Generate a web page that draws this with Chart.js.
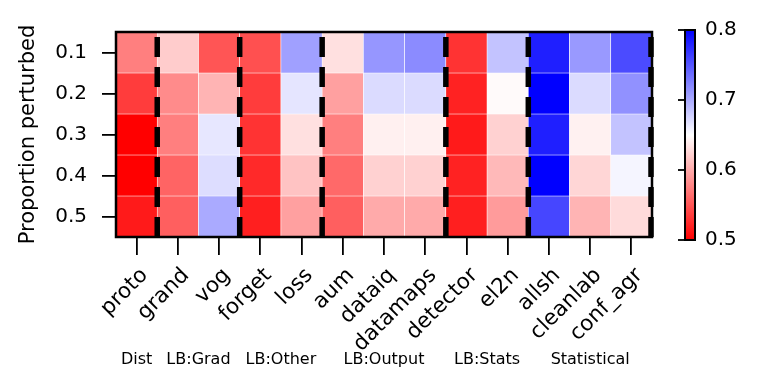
<!DOCTYPE html>
<html>
<head>
<meta charset="utf-8">
<script src="https://cdn.jsdelivr.net/npm/chart.js@4"></script>
<style>
  html, body { margin: 0; padding: 0; background: #fff; }
  canvas { display: block; }
</style>
</head>
<body>
<canvas id="heatmap" width="762" height="388"></canvas>
<script>
// Methods on the x axis, perturbation levels on the y axis
const methods = ['proto', 'grand', 'vog', 'forget', 'loss', 'aum', 'dataiq', 'datamaps',
                 'detector', 'el2n', 'allsh', 'cleanlab', 'conf_agr'];
const proportions = ['0.1', '0.2', '0.3', '0.4', '0.5'];

// Cell values, one array per row
const row01 = [0.575, 0.620, 0.550, 0.547, 0.706, 0.632, 0.712, 0.718, 0.530, 0.685, 0.782, 0.710, 0.756];
const row02 = [0.535, 0.582, 0.606, 0.535, 0.665, 0.594, 0.671, 0.671, 0.520, 0.647, 0.800, 0.671, 0.715];
const row03 = [0.500, 0.575, 0.664, 0.530, 0.632, 0.575, 0.641, 0.641, 0.515, 0.623, 0.782, 0.642, 0.685];
const row04 = [0.500, 0.559, 0.670, 0.524, 0.615, 0.562, 0.623, 0.623, 0.520, 0.609, 0.800, 0.626, 0.656];
const row05 = [0.515, 0.556, 0.700, 0.518, 0.594, 0.556, 0.600, 0.600, 0.518, 0.591, 0.759, 0.606, 0.629];
const rows = [row01, row02, row03, row04, row05];

// Method groups: label, first column, last column
const groupNames = ['Dist', 'LB:Grad', 'LB:Other', 'LB:Output', 'LB:Stats', 'Statistical'];
const groupFirst = [0, 1, 3, 5, 8, 10];
const groupLast = [0, 2, 4, 7, 9, 12];

// Colour scale
const vmin = 0.5;
const vmax = 0.8;
const colorTicks = [0.5, 0.6, 0.7, 0.8];

Chart.defaults.font.family = 'DejaVu Sans';
Chart.defaults.color = '#000';

// bwr reversed: red -> white -> blue
function bwrR(v) {
  let t = (v - vmin) / (vmax - vmin);
  t = Math.min(1, Math.max(0, t));
  let r, g, b;
  if (t < 0.5) {
    const s = t / 0.5;
    r = 255; g = Math.round(255 * s); b = g;
  } else {
    const s = (t - 0.5) / 0.5;
    r = Math.round(255 * (1 - s)); g = r; b = 255;
  }
  return `rgb(${r},${g},${b})`;
}

const datasets = rows.map((vals, r) => ({
  label: proportions[r],
  data: vals.map(() => [r + 0.5, r + 1.5]),
  backgroundColor: vals.map(bwrR),
  borderColor: '#fff',
  borderWidth: 0.6,
  borderSkipped: false,
  barPercentage: 1,
  categoryPercentage: 1,
  grouped: false
}));

// Frame, group separators, group labels and colour bar
const decorations = {
  id: 'decorations',
  afterDatasetsDraw(chart) {
    const { ctx, chartArea: a, scales: { x } } = chart;
    ctx.save();

    // dashed separators after each group
    ctx.strokeStyle = '#000';
    ctx.lineWidth = 5.5;
    ctx.setLineDash([20, 10]);
    groupLast.forEach(i => {
      const px = i === methods.length - 1
        ? a.right - 1
        : (x.getPixelForValue(i) + x.getPixelForValue(i + 1)) / 2;
      ctx.beginPath();
      ctx.moveTo(px, a.bottom);
      ctx.lineTo(px, a.top);
      ctx.stroke();
    });
    ctx.setLineDash([]);

    // axes frame
    ctx.lineWidth = 2.5;
    ctx.strokeRect(a.left, a.top, a.right - a.left, a.bottom - a.top);

    // group labels
    ctx.fillStyle = '#000';
    ctx.font = '16px "DejaVu Sans"';
    ctx.textAlign = 'center';
    ctx.textBaseline = 'alphabetic';
    groupNames.forEach((name, k) => {
      const cx = (x.getPixelForValue(groupFirst[k]) + x.getPixelForValue(groupLast[k])) / 2;
      ctx.fillText(name, cx, 364);
    });

    // colour bar
    const cbL = 685, cbR = 695, cbT = 30, cbB = 240;
    const grad = ctx.createLinearGradient(0, cbB, 0, cbT);
    grad.addColorStop(0, bwrR(vmin));
    grad.addColorStop(0.5, bwrR((vmin + vmax) / 2));
    grad.addColorStop(1, bwrR(vmax));
    ctx.fillStyle = grad;
    ctx.fillRect(cbL, cbT, cbR - cbL, cbB - cbT);
    ctx.lineWidth = 2;
    ctx.strokeStyle = '#000';
    ctx.strokeRect(cbL, cbT, cbR - cbL, cbB - cbT);

    ctx.font = '20px "DejaVu Sans"';
    ctx.textAlign = 'left';
    ctx.textBaseline = 'middle';
    ctx.fillStyle = '#000';
    ctx.lineWidth = 1.8;
    colorTicks.forEach(v => {
      const py = cbB - (v - vmin) / (vmax - vmin) * (cbB - cbT);
      ctx.beginPath();
      ctx.moveTo(cbL - 7, py);
      ctx.lineTo(cbL, py);
      ctx.stroke();
      ctx.fillText(v.toFixed(1), 705, py);
    });

    ctx.restore();
  }
};

new Chart(document.getElementById('heatmap'), {
  type: 'bar',
  data: { labels: methods, datasets: datasets },
  options: {
    responsive: false,
    animation: false,
    events: [],
    layout: { padding: { top: 32, right: 110, left: 0, bottom: 0 } },
    plugins: {
      legend: { display: false },
      tooltip: { enabled: false }
    },
    scales: {
      x: {
        type: 'category',
        offset: true,
        border: { display: false },
        grid: {
          offset: false,
          drawOnChartArea: false,
          drawTicks: true,
          tickLength: 18,
          color: '#000',
          lineWidth: 1.8
        },
        ticks: {
          font: { size: 21.5 },
          color: '#000',
          minRotation: 45,
          maxRotation: 45,
          autoSkip: false,
          padding: 8,
          labelOffset: 8
        },
        afterFit(scale) { scale.height = 151; }
      },
      y: {
        type: 'linear',
        reverse: true,
        min: 0.5,
        max: 5.5,
        border: { display: false },
        grid: {
          drawOnChartArea: false,
          drawTicks: true,
          tickLength: 14,
          color: '#000',
          lineWidth: 1.8
        },
        ticks: {
          font: { size: 20 },
          color: '#000',
          padding: 15,
          callback: value => proportions[value - 1]
        },
        afterBuildTicks(scale) {
          scale.ticks = proportions.map((p, i) => ({ value: i + 1 }));
        },
        title: {
          display: true,
          text: 'Proportion perturbed',
          font: { size: 21 },
          color: '#000',
          padding: { top: 16, bottom: 0 }
        },
        afterFit(scale) { scale.width = 116; }
      }
    }
  },
  plugins: [decorations]
});
</script>
</body>
</html>
